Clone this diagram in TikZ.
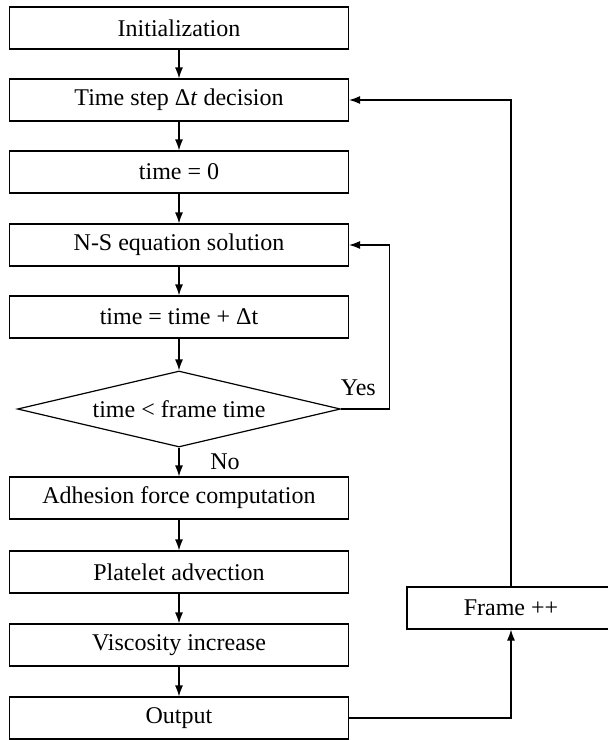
\documentclass[tikz,border=0pt]{standalone}
\usepackage{fontspec}
\setmainfont{Liberation Serif}
\usetikzlibrary{shapes.geometric,arrows.meta}
\tikzset{
  stepbox/.style={draw, minimum width=169.5pt, minimum height=21pt, inner sep=0pt},
  testbox/.style={draw, diamond, aspect=4, minimum width=161.5pt, minimum height=38pt, inner sep=0pt},
}
\begin{document}
\begin{tikzpicture}[x=0.5pt, y=-0.5pt, line width=0.6pt, >={Latex[length=5.5pt,width=4pt]}, font=\fontsize{12}{14}\selectfont]
        \useasboundingbox (0,0) rectangle (608,740);
        \node[stepbox] (init) at (179,28) {Initialization};
        \node[stepbox] (dt) at (179,100) {Time step Δ\textit{t} decision};
        \node[stepbox] (zero) at (179,172) {time = 0};
        \node[stepbox] (ns) at (179,245) {N-S equation solution};
        \node[stepbox] (inc) at (179,317) {time = time + Δt};
        \node[testbox] (check) at (179,409) {time < frame time};
        \node[stepbox] (adh) at (179,498) {Adhesion force computation};
        \node[stepbox] (adv) at (179,572) {Platelet advection};
        \node[stepbox] (visc) at (179,645) {Viscosity increase};
        \node[stepbox] (out) at (179,718) {Output};
        \node[draw, minimum width=104pt, minimum height=21pt, inner sep=0pt] (frame) at (511,608) {Frame ++};
        \draw[->] (init) -- (dt);
        \draw[->] (dt) -- (zero);
        \draw[->] (zero) -- (ns);
        \draw[->] (ns) -- (inc);
        \draw[->] (inc) -- (check);
        \draw[->] (check) -- (adh) node[midway, right=12pt] {No};
        \draw[->] (check.east) -- ++(48,0) node[above left=3pt] {Yes} |- (ns.east);
        \draw[->] (adh) -- (adv);
        \draw[->] (adv) -- (visc);
        \draw[->] (visc) -- (out);
        \draw[->] (out.east) -| (frame.south);
        \draw[->] (frame.north) |- (dt.east);
    \end{tikzpicture}
\end{document}
